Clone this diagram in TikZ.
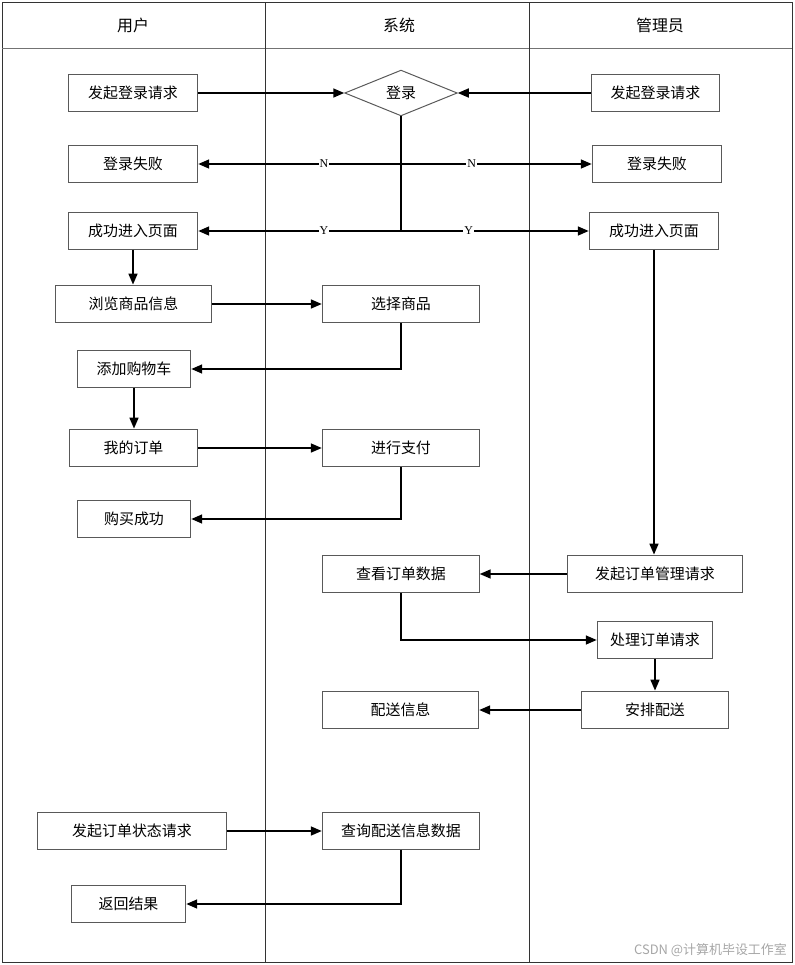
\documentclass[tikz,border=0pt]{standalone}
\usepackage{fontspec}
\setmainfont{Noto Sans CJK SC}
\newfontfamily\lbl{Liberation Serif}
\usetikzlibrary{arrows.meta,shapes.geometric}
\tikzset{
  box/.style={draw=black!65, line width=1pt, rectangle, inner sep=0pt, minimum height=37pt, font=\fontsize{15}{18}\selectfont},
  conn/.style={line width=1.7pt, -{Triangle[length=11pt,width=9pt]}},
  plain/.style={line width=1.7pt},
  yn/.style={fill=white, inner sep=1pt, font=\lbl\fontsize{12}{13}\selectfont},
  lane/.style={line width=1pt, draw=black!80},
  head/.style={font=\fontsize{16}{18}\selectfont}
}
\begin{document}
\begin{tikzpicture}[x=1bp,y=-1bp]
\useasboundingbox (0,0) rectangle (795,965);
% swimlanes
\draw[lane] (2,2) rectangle (792,962);
\draw[line width=1pt, draw=black!55] (2,48) -- (792,48);
\draw[lane] (265,2) -- (265,962);
\draw[lane] (529,2) -- (529,962);
\node[head] (h1) at (133,25) {用户};
\node[head] (h2) at (399,25) {系统};
\node[head] (h3) at (660,25) {管理员};
% nodes
\node[box, minimum width=130pt] (ul) at (133,93) {发起登录请求};
\node[draw=black!65, line width=1pt, diamond, aspect=2.46, inner sep=0pt, minimum width=113pt, minimum height=46pt, font=\fontsize{15}{18}\selectfont] (d) at (401,93) {登录};
\node[box, minimum width=129pt] (al) at (655.5,93) {发起登录请求};
\node[box, minimum width=130pt] (uf) at (133,164) {登录失败};
\node[box, minimum width=130pt] (af) at (657,164) {登录失败};
\node[box, minimum width=130pt] (us) at (133,231) {成功进入页面};
\node[box, minimum width=130pt] (as) at (654,231) {成功进入页面};
\node[box, minimum width=157pt, minimum height=38pt] (browse) at (133.5,304) {浏览商品信息};
\node[box, minimum width=158pt, minimum height=38pt] (select) at (401,304) {选择商品};
\node[box, minimum width=114pt] (cart) at (134,369) {添加购物车};
\node[box, minimum width=129pt, minimum height=38pt] (order) at (133.5,448) {我的订单};
\node[box, minimum width=158pt, minimum height=38pt] (pay) at (401,448) {进行支付};
\node[box, minimum width=114pt, minimum height=38pt] (succ) at (134,519) {购买成功};
\node[box, minimum width=157pt, minimum height=38pt] (view) at (401,574) {查看订单数据};
\node[box, minimum width=176pt, minimum height=38pt] (mgr) at (655,574) {发起订单管理请求};
\node[box, minimum width=116pt, minimum height=38pt] (proc) at (655,640) {处理订单请求};
\node[box, minimum width=147pt, minimum height=38pt] (ship) at (655,710) {安排配送};
\node[box, minimum width=157pt, minimum height=38pt] (info) at (400.5,710) {配送信息};
\node[box, minimum width=190pt] (status) at (132,831) {发起订单状态请求};
\node[box, minimum width=158pt] (query) at (401,831) {查询配送信息数据};
\node[box, minimum width=115pt, minimum height=38pt] (result) at (128.5,904) {返回结果};
% connectors
\coordinate (v1) at (401,164);
\coordinate (v2) at (401,231);
\draw[conn] (ul.east) -- (ul.east -| d.west);
\draw[conn] (al.west) -- (al.west -| d.east);
\draw[plain] (d.south) -- (v2);
\draw[conn] (v1) -- (uf.east) node[yn, pos=0.38] {N};
\draw[conn] (v1) -- (af.west) node[yn, pos=0.37] {N};
\draw[conn] (v2) -- (us.east) node[yn, pos=0.38] {Y};
\draw[conn] (v2) -- (as.west) node[yn, pos=0.36] {Y};
\draw[conn] (us.south) -- (us.south |- browse.north);
\draw[conn] (browse.east) -- (select.west);
\draw[conn] (select.south) |- (cart.east);
\draw[conn] (cart.south) -- (cart.south |- order.north);
\draw[conn] (order.east) -- (pay.west);
\draw[conn] (pay.south) |- (succ.east);
\draw[conn] (as.south) -- (as.south |- mgr.north);
\draw[conn] (mgr.west) -- (view.east);
\draw[conn] (view.south) |- (proc.west);
\draw[conn] (proc.south) -- (proc.south |- ship.north);
\draw[conn] (ship.west) -- (info.east);
\draw[conn] (status.east) -- (query.west);
\draw[conn] (query.south) |- (result.east);
% watermark
\node[anchor=east, text=black!35, inner sep=0pt, font=\fontsize{13}{14}\selectfont] (wm) at (787,950) {CSDN @计算机毕设工作室};
\end{tikzpicture}
\end{document}
